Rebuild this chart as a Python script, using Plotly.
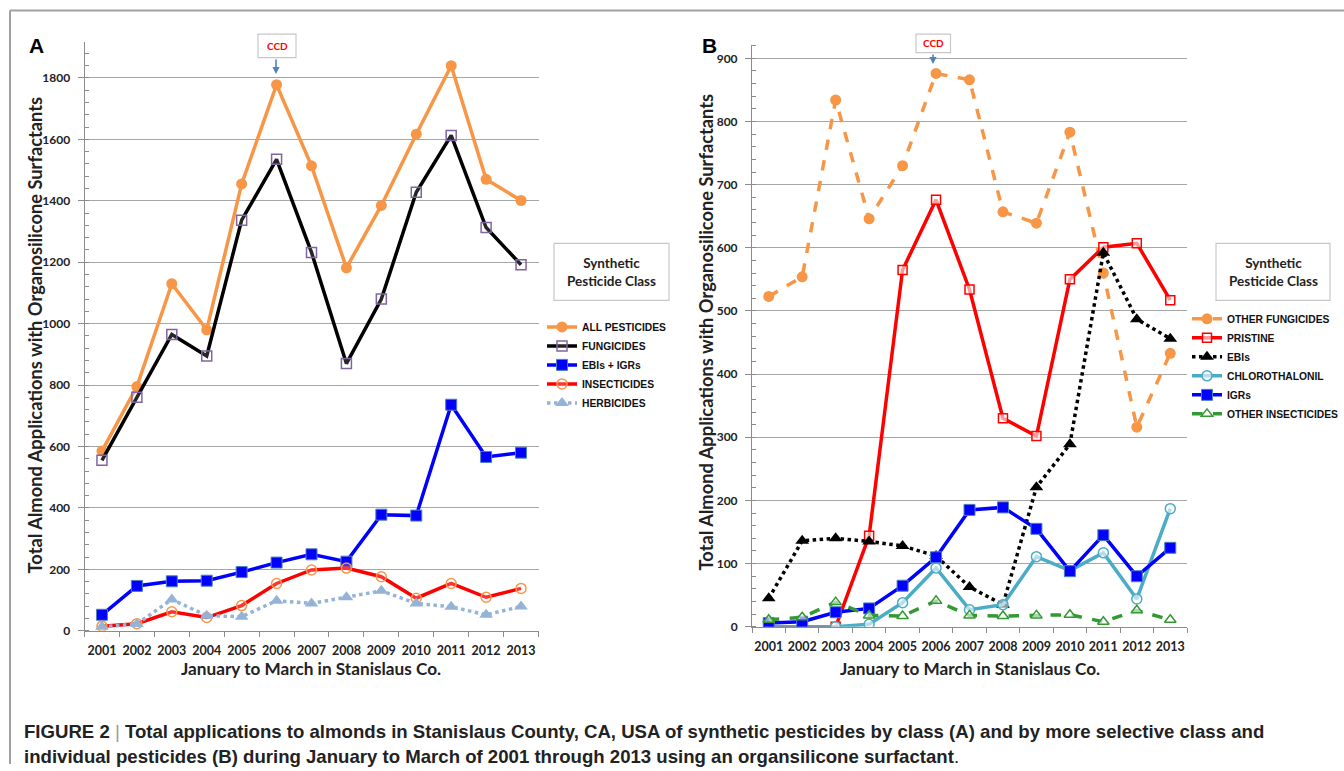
import plotly.graph_objects as go

W, H = 1344, 771
SY = 779 / 771  # vertical compensation observed in the capture
years = list(range(2001, 2014))
year_labels = [str(y) for y in years]

# Panel A
all_pesticides = [585, 795, 1130, 980, 1455, 1778, 1514, 1182, 1385, 1617, 1840, 1470, 1401]
fungicides = [555, 760, 965, 895, 1337, 1535, 1232, 870, 1080, 1428, 1613, 1313, 1192]
ebis_igrs = [52, 146, 161, 163, 191, 222, 249, 225, 378, 375, 736, 566, 580]
insecticides = [15, 23, 62, 43, 82, 154, 198, 204, 176, 106, 154, 109, 138]
herbicides = [13, 22, 102, 49, 46, 98, 89, 109, 130, 89, 78, 52, 79]

# Panel B
other_fungicides = [523, 554, 834, 646, 730, 876, 866, 657, 639, 783, 560, 316, 433]
pristine = [0, 0, 0, 144, 565, 676, 534, 330, 302, 550, 601, 607, 517]
ebis = [45, 136, 140, 135, 128, 112, 63, 35, 221, 289, 592, 487, 456]
chlorothalonil = [0, 0, 0, 4, 38, 93, 27, 35, 111, 89, 117, 44, 187]
igrs = [6, 8, 23, 29, 65, 110, 185, 189, 155, 88, 145, 80, 125]
other_insecticides = [11, 15, 39, 18, 17, 41, 18, 17, 18, 19, 8, 26, 11]

def px(x):
    return x / W

def py(y):
    return max(0.0, 1 - y * SY / H)

fig = go.Figure()

lw = 3.5
# ---- Panel A traces
fig.add_trace(go.Scatter(x=years, y=all_pesticides, name="ALL PESTICIDES", mode="lines+markers",
                         line=dict(color="#F79646", width=lw), marker=dict(symbol="circle", size=11, color="#F79646"),
                         xaxis="x", yaxis="y", legend="legend"))
fig.add_trace(go.Scatter(x=years, y=fungicides, name="FUNGICIDES", mode="lines+markers",
                         line=dict(color="#000000", width=lw),
                         marker=dict(symbol="square", size=10, color="rgba(255,255,255,0.15)", line=dict(color="#8064A2", width=1.5)),
                         xaxis="x", yaxis="y", legend="legend"))
fig.add_trace(go.Scatter(x=years, y=ebis_igrs, name="EBIs + IGRs", mode="lines+markers",
                         line=dict(color="#0000FF", width=lw),
                         marker=dict(symbol="square", size=11, color="#0000FF", line=dict(color="#4F81BD", width=1)),
                         xaxis="x", yaxis="y", legend="legend"))
fig.add_trace(go.Scatter(x=years, y=insecticides, name="INSECTICIDES", mode="lines+markers",
                         line=dict(color="#FF0000", width=lw),
                         marker=dict(symbol="circle", size=10, color="rgba(255,255,255,0.2)", line=dict(color="#F79646", width=1.5)),
                         xaxis="x", yaxis="y", legend="legend"))
fig.add_trace(go.Scatter(x=years, y=herbicides, name="HERBICIDES", mode="lines+markers",
                         line=dict(color="#95B3D7", width=lw, dash="dot"),
                         marker=dict(symbol="triangle-up", size=12, color="#95B3D7"),
                         xaxis="x", yaxis="y", legend="legend"))

# ---- Panel B traces
fig.add_trace(go.Scatter(x=years, y=other_fungicides, name="OTHER FUNGICIDES", mode="lines+markers",
                         line=dict(color="#F79646", width=lw, dash="dash"), marker=dict(symbol="circle", size=11, color="#F79646"),
                         xaxis="x2", yaxis="y2", legend="legend2"))
fig.add_trace(go.Scatter(x=years, y=pristine, name="PRISTINE", mode="lines+markers",
                         line=dict(color="#FF0000", width=lw),
                         marker=dict(symbol="square", size=9, color="rgba(255,255,255,0.6)", line=dict(color="#FF0000", width=1.5)),
                         xaxis="x2", yaxis="y2", legend="legend2"))
fig.add_trace(go.Scatter(x=years, y=ebis, name="EBIs", mode="lines+markers",
                         line=dict(color="#000000", width=lw, dash="dot"),
                         marker=dict(symbol="triangle-up", size=12, color="#000000"),
                         xaxis="x2", yaxis="y2", legend="legend2"))
fig.add_trace(go.Scatter(x=years, y=chlorothalonil, name="CHLOROTHALONIL", mode="lines+markers",
                         line=dict(color="#4BACC6", width=lw),
                         marker=dict(symbol="circle", size=10, color="rgba(255,255,255,0.6)", line=dict(color="#4BACC6", width=1.5)),
                         xaxis="x2", yaxis="y2", legend="legend2"))
fig.add_trace(go.Scatter(x=years, y=igrs, name="IGRs", mode="lines+markers",
                         line=dict(color="#0000FF", width=lw),
                         marker=dict(symbol="square", size=11, color="#0000FF", line=dict(color="#4F81BD", width=1)),
                         xaxis="x2", yaxis="y2", legend="legend2"))
fig.add_trace(go.Scatter(x=years, y=other_insecticides, name="OTHER INSECTICIDES", mode="lines+markers",
                         line=dict(color="#339933", width=lw, dash="dash"),
                         marker=dict(symbol="triangle-up", size=10, color="rgba(255,255,255,0.6)", line=dict(color="#339933", width=1.5)),
                         xaxis="x2", yaxis="y2", legend="legend2"))

xtickfont = dict(family="Lato", size=12.5, color="#222222", weight="bold")
ytickfont = dict(family="Lato", size=12, color="#222222", weight="bold")
grid_c = "#A6A6A6"
axis_c = "#8C8C8C"

def xaxis_cfg(left, right, anchor):
    return dict(domain=[px(left), px(right)], range=[2000.5, 2013.5], tickmode="array", anchor=anchor,
                tickvals=years, ticktext=year_labels, ticks="", showgrid=False, zeroline=False,
                showline=True, linecolor=axis_c, linewidth=1, tickfont=xtickfont, ticklabelstandoff=8,
                minor=dict(tick0=2000.5, dtick=1, ticks="outside", ticklen=5, tickcolor=axis_c, showgrid=False),
                fixedrange=True)

def yaxis_cfg(anchor, top, bottom, ymax, dtick, minor_dtick):
    return dict(domain=[py(bottom), py(top)], range=[0, ymax], dtick=dtick, tick0=0, anchor=anchor,
                showgrid=True, gridcolor=grid_c, gridwidth=1, zeroline=False,
                showline=True, linecolor=axis_c, linewidth=1, ticks="outside", ticklen=6, tickcolor=axis_c,
                tickfont=ytickfont, ticklabelstandoff=5,
                minor=dict(dtick=minor_dtick, tick0=0, ticks="inside", ticklen=4, tickcolor=axis_c, showgrid=False),
                fixedrange=True)

legfont = dict(family="Liberation Sans", size=10.3, color="#111111", weight="bold")
fig.update_layout(
    width=W, height=H, margin=dict(l=0, r=0, t=0, b=0),
    paper_bgcolor="white", plot_bgcolor="white",
    xaxis=xaxis_cfg(84.5, 538.5, "y"), yaxis=yaxis_cfg("x", 42, 630, 1917, 200, 40),
    xaxis2=xaxis_cfg(752, 1187, "y2"), yaxis2=yaxis_cfg("x2", 45, 626, 921, 100, 20),
    legend=dict(x=px(542), y=py(312), xanchor="left", yanchor="top", font=legfont,
                bgcolor="rgba(0,0,0,0)", itemwidth=30, tracegroupgap=0),
    legend2=dict(x=px(1187), y=py(304), xanchor="left", yanchor="top", font=legfont,
                 bgcolor="rgba(0,0,0,0)", itemwidth=30, tracegroupgap=0),
    showlegend=True,
)

shapes = []
annotations = []
frame_c = "#A0A0A0"
shapes.append(dict(type="line", xref="paper", yref="paper", x0=px(10), x1=1, y0=py(10.5), y1=py(10.5),
                   line=dict(color=frame_c, width=2)))
shapes.append(dict(type="line", xref="paper", yref="paper", x0=px(10), x1=px(10), y0=py(10.5), y1=0,
                   line=dict(color=frame_c, width=2)))

def ann(x, y, text, font, **kw):
    d = dict(xref="paper", yref="paper", x=px(x), y=py(y), showarrow=False, text=text,
             xanchor="center", yanchor="middle", font=font)
    d.update(kw)
    annotations.append(d)

# Legend title boxes
for (x0, x1) in [(554, 669), (1216, 1330)]:
    shapes.append(dict(type="rect", xref="paper", yref="paper", x0=px(x0), x1=px(x1), y0=py(300), y1=py(243),
                       line=dict(color="#C8C8C8", width=1.2), fillcolor="white"))
    ann((x0 + x1) / 2, 271.5, "Synthetic<br>Pesticide Class",
        dict(family="Lato", size=13.5, color="#222222", weight="bold"), align="center")

# CCD boxes and arrows
for (x0, x1, y0, y1, ax_, ay0, ay1) in [(258, 296, 34, 57.5, 276, 58, 74), (916, 950.5, 34, 52.5, 933, 53, 64)]:
    shapes.append(dict(type="rect", xref="paper", yref="paper", x0=px(x0), x1=px(x1), y0=py(y1), y1=py(y0),
                       line=dict(color="#C8C8C8", width=1.2), fillcolor="white"))
    ann((x0 + x1) / 2, (y0 + y1) / 2, "CCD", dict(family="Lato", size=10, color="#FF0000", weight="bold"))
    annotations.append(dict(xref="paper", yref="paper", axref="pixel", ayref="pixel", x=px(ax_), y=py(ay1),
                            ax=0, ay=-(ay1 - ay0) * SY, showarrow=True, arrowhead=2, arrowsize=0.9, arrowwidth=1.6,
                            arrowcolor="#4F81BD", text=""))

# Panel letters
ann(36, 45, "<b>A</b>", dict(family="Liberation Sans", size=21, color="black"))
ann(709, 45, "<b>B</b>", dict(family="Liberation Sans", size=21, color="black"))

# Axis titles
ytitle = "<b>Total Almond Applications with Organosilicone Surfactants</b>"
xtitle = "<b>January to March in Stanislaus Co.</b>"
for (xx, yy) in [(35, 335), (706, 332)]:
    ann(xx, yy, ytitle, dict(family="Lato", size=18.3, color="#222222"), textangle=-90)
for (xx, yy) in [(311, 668), (970, 668)]:
    ann(xx, yy, xtitle, dict(family="Lato", size=17.2, color="#222222"))

# Caption
cap1 = ("<b>FIGURE 2</b> <span style='color:#999'>|</span> <b>Total applications to almonds in Stanislaus County, "
        "CA, USA of synthetic pesticides by class (A) and by more selective class and</b>")
cap2 = ("<b>individual pesticides (B) during January to March of 2001 through 2013 using an organsilicone "
        "surfactant</b>.")
ann(22, 731, cap1, dict(family="Liberation Sans", size=18.6, color="#222222"), xanchor="left")
ann(22, 756, cap2, dict(family="Liberation Sans", size=18.6, color="#222222"), xanchor="left")

fig.update_layout(shapes=shapes, annotations=annotations)

post = (
    "document.documentElement.style.margin='0';document.documentElement.style.padding='0';"
    "document.body.style.margin='0';document.body.style.padding='0';"
    "document.body.style.overflow='hidden';document.documentElement.style.overflow='hidden';"
    "var gd=document.getElementById('{plot_id}');"
    "gd.style.display='block';gd.style.lineHeight='0';gd.style.fontSize='0';"
    "if(gd.parentElement){gd.parentElement.style.lineHeight='0';gd.parentElement.style.fontSize='0';}"
    "var sc=gd.querySelectorAll('.svg-container, .plot-container');"
    "for(var i=0;i<sc.length;i++){sc[i].style.display='block';}"
)
fig.write_html("out.html", config={"displayModeBar": False}, post_script=post)
